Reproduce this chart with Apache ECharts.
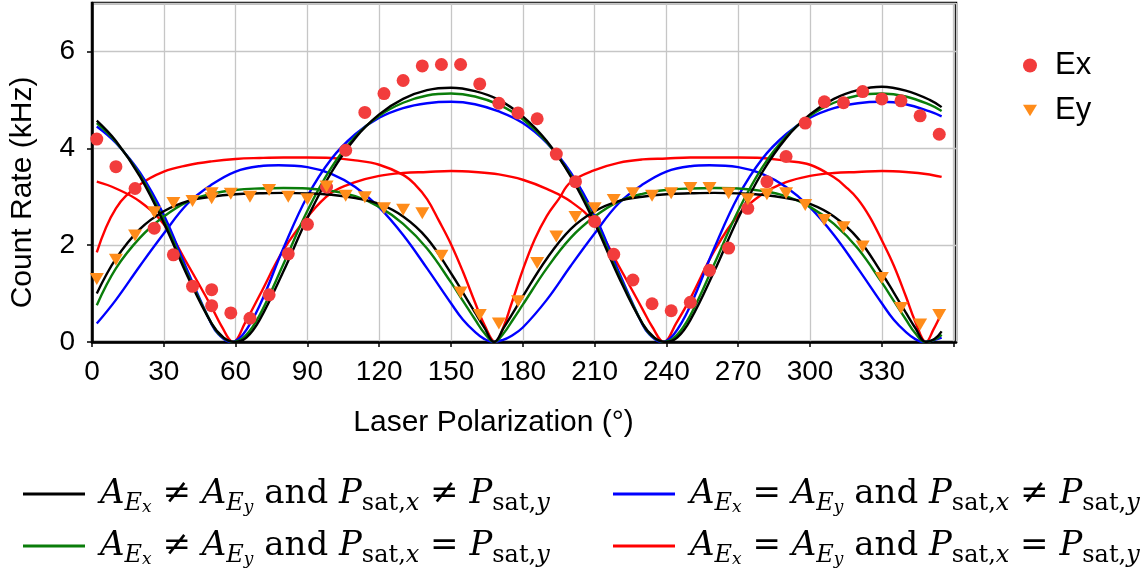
<!DOCTYPE html>
<html>
<head>
<meta charset="utf-8">
<script src="https://cdn.jsdelivr.net/npm/echarts@6/dist/echarts.min.js"></script>
<style>
html,body{margin:0;padding:0;background:#fff;}
#chart{width:1146px;height:573px;}
</style>
</head>
<body>
<div id="chart"></div>
<script>
// ---------- data ----------
const xTickLabels = [0, 30, 60, 90, 120, 150, 180, 210, 240, 270, 300, 330];
const yTickLabels = [0, 2, 4, 6];

// measured count rates (kHz) vs laser polarization (deg)
const exData = [[2,4.19],[10,3.62],[18,3.17],[26,2.35],[34,1.80],[42,1.15],[50,1.08],[50,0.75],[58,0.60],[66,0.49],[74,0.975],[82,1.82],[90,2.43],[98,3.20],[106,3.96],[114,4.74],[122,5.13],[130,5.40],[138,5.70],[146,5.73],[154,5.73],[162,5.33],[170,4.93],[178,4.73],[186,4.61],[194,3.88],[202,3.31],[210,2.49],[218,1.81],[226,1.28],[234,0.79],[242,0.645],[250,0.82],[258,1.48],[266,1.94],[274,2.76],[282,3.31],[290,3.83],[298,4.52],[306,4.96],[314,4.94],[322,5.17],[330,5.02],[338,4.98],[346,4.67],[354,4.29]];
const eyData = [[2,1.30],[10,1.70],[18,2.20],[26,2.68],[34,2.87],[42,2.91],[50,3.07],[50,2.97],[58,3.06],[66,3.00],[74,3.14],[82,3.00],[90,2.95],[98,3.21],[106,3.02],[114,2.99],[122,2.76],[130,2.73],[138,2.66],[146,1.78],[154,1.02],[162,0.56],[170,0.38],[178,0.84],[186,1.63],[194,2.18],[202,2.58],[210,2.76],[218,2.93],[226,3.07],[234,3.02],[242,3.07],[250,3.18],[258,3.18],[266,3.07],[274,2.95],[282,3.05],[290,3.07],[298,2.83],[306,2.52],[314,2.37],[322,1.97],[330,1.32],[338,0.70],[346,0.36],[354,0.56]];

// fitted curves
const blackEx = [[2,4.57],[10,4.15],[20,3.42],[30,2.46],[40,1.35],[50,0.38],[55,0.09],[59.5,0],[64.5,0.09],[70,0.45],[80,1.46],[90,2.56],[100,3.50],[110,4.21],[120,4.70],[130,5.02],[140,5.20],[150,5.25],[160,5.18],[170,5.00],[180,4.66],[190,4.15],[200,3.42],[210,2.46],[220,1.35],[230,0.38],[235,0.09],[239.5,0],[244.5,0.09],[250,0.45],[260,1.46],[270,2.56],[280,3.50],[290,4.21],[300,4.70],[310,5.02],[320,5.20],[330,5.27],[340,5.19],[350,5.00],[355,4.85]];
const blackEy = [[2,1.00],[10,1.72],[20,2.33],[30,2.70],[40,2.91],[50,3.00],[60,3.05],[70,3.07],[80,3.08],[90,3.07],[100,3.04],[110,2.97],[120,2.85],[130,2.59],[140,2.14],[150,1.42],[155,1.02],[160,0.61],[164,0.29],[168,0],[172,0.29],[176,0.61],[180,0.94],[190,1.72],[200,2.33],[210,2.70],[220,2.91],[230,3.00],[240,3.05],[250,3.07],[260,3.08],[270,3.07],[280,3.04],[290,2.97],[300,2.85],[310,2.59],[320,2.14],[330,1.42],[335,1.02],[340,0.61],[344,0.29],[348.5,0],[352,0.06],[355,0.22]];
const greenEx = [[2,4.52],[10,4.13],[20,3.45],[30,2.52],[40,1.39],[50,0.38],[54,0.12],[59,0],[64,0.12],[70,0.55],[80,1.61],[90,2.71],[100,3.60],[110,4.24],[120,4.67],[130,4.94],[140,5.09],[150,5.13],[160,5.07],[170,4.90],[180,4.60],[190,4.13],[200,3.45],[210,2.52],[220,1.39],[230,0.38],[234,0.12],[239,0],[244,0.12],[250,0.55],[260,1.61],[270,2.71],[280,3.60],[290,4.24],[300,4.67],[310,4.94],[320,5.09],[330,5.13],[340,5.07],[350,4.90],[355,4.77]];
const greenEy = [[2,0.76],[10,1.52],[20,2.15],[30,2.59],[40,2.90],[50,3.06],[60,3.14],[70,3.17],[80,3.18],[90,3.17],[100,3.12],[110,3.01],[120,2.79],[130,2.44],[140,1.93],[150,1.23],[155,0.85],[160,0.47],[164,0.18],[168,0],[172,0.18],[176,0.47],[180,0.77],[190,1.52],[200,2.15],[210,2.59],[220,2.90],[230,3.06],[240,3.14],[250,3.17],[260,3.18],[270,3.17],[280,3.12],[290,3.01],[300,2.79],[310,2.44],[320,1.93],[330,1.23],[335,0.85],[340,0.47],[344,0.18],[348,0],[352,0.05],[355,0.15]];
const blueEx = [[2,4.45],[10,4.11],[20,3.50],[30,2.62],[40,1.46],[50,0.36],[53,0.15],[58,0],[63,0.15],[70,0.75],[80,1.94],[90,3.01],[100,3.78],[110,4.29],[120,4.63],[130,4.83],[140,4.93],[150,4.96],[160,4.91],[170,4.76],[180,4.52],[190,4.11],[200,3.50],[210,2.62],[220,1.46],[230,0.36],[233,0.15],[238,0],[243,0.15],[250,0.75],[260,1.94],[270,3.01],[280,3.78],[290,4.29],[300,4.63],[310,4.83],[320,4.93],[330,4.96],[340,4.91],[350,4.76],[355,4.66]];
const blueEy = [[2,0.38],[10,0.87],[20,1.57],[30,2.24],[40,2.86],[50,3.25],[60,3.52],[70,3.63],[78,3.65],[90,3.61],[100,3.47],[110,3.20],[120,2.78],[130,2.21],[140,1.52],[150,0.80],[155,0.46],[160,0.21],[164,0.06],[167.5,0],[171.5,0.04],[175,0.12],[180,0.30],[190,0.87],[200,1.57],[210,2.24],[220,2.86],[230,3.25],[240,3.52],[250,3.63],[258,3.65],[270,3.61],[280,3.47],[290,3.20],[300,2.78],[310,2.21],[320,1.52],[330,0.80],[335,0.46],[340,0.21],[344,0.06],[347.5,0],[351,0.03],[355,0.09]];
const redEx = [[2,3.31],[10,3.17],[20,2.90],[30,2.43],[40,1.60],[50,0.72],[54,0.34],[59,0],[64,0.40],[70,0.96],[80,1.90],[90,2.58],[100,3.08],[110,3.30],[120,3.43],[130,3.49],[140,3.51],[150,3.53],[160,3.51],[170,3.46],[180,3.35],[190,3.16],[200,2.90],[210,2.45],[220,1.58],[230,0.68],[234,0.32],[239,0],[244,0.38],[250,0.90],[260,1.88],[270,2.62],[280,3.05],[290,3.30],[300,3.43],[310,3.49],[320,3.51],[330,3.53],[340,3.51],[350,3.46],[355,3.41]];
const redEy = [[2,1.85],[10,2.76],[20,3.25],[30,3.52],[40,3.65],[50,3.73],[60,3.78],[70,3.80],[80,3.81],[90,3.81],[100,3.80],[110,3.75],[120,3.66],[130,3.45],[135,3.25],[140,2.95],[145,2.50],[150,2.02],[155,1.45],[160,0.82],[164,0.35],[168.5,0],[172,0.32],[175,0.75],[180,1.49],[185,2.12],[190,2.60],[195,2.95],[200,3.30],[210,3.55],[220,3.70],[230,3.77],[240,3.79],[250,3.81],[260,3.81],[270,3.81],[280,3.80],[290,3.74],[300,3.66],[310,3.40],[315,3.20],[320,2.95],[325,2.58],[330,2.10],[335,1.58],[340,0.95],[344,0.42],[348.5,0],[351.5,0.25],[355,0.60]];

const modelNames = [
  'A_Ex ≠ A_Ey and P_sat,x ≠ P_sat,y',
  'A_Ex ≠ A_Ey and P_sat,x = P_sat,y',
  'A_Ex = A_Ey and P_sat,x ≠ P_sat,y',
  'A_Ex = A_Ey and P_sat,x = P_sat,y'
];
const modelColors = ['#000000', '#0a7d0a', '#0000ff', '#ff0000'];

// ---------- chart ----------
const sans = 'Liberation Sans, Arial, Helvetica, sans-serif';
const serif = 'DejaVu Serif, Liberation Serif, serif';
const triPath = 'path://M0,0L12,0L6,10Z';

function curve(name, color, data) {
  return {
    type: 'line', name: name, data: data, color: color,
    smooth: 0.4, symbol: 'none', showSymbol: false, silent: true,
    lineStyle: { color: color, width: 2.4 }, z: 2
  };
}

function mathLabel(name) {
  const ops = name.match(/[≠=]/g);
  return '{it|A}{s1|E}{s2|x}{op| ' + ops[0] + ' }{it|A}{s1|E}{s2|y}{rm| and }' +
         '{it|P}{s1r|sat,}{s1|x}{op| ' + ops[1] + ' }{it|P}{s1r|sat,}{s1|y}';
}
const rich = {
  it:  { fontFamily: serif, fontStyle: 'italic', fontSize: 34, lineHeight: 44, color: '#000' },
  rm:  { fontFamily: serif, fontSize: 34, lineHeight: 44, color: '#000' },
  op:  { fontFamily: serif, fontSize: 34, lineHeight: 44, color: '#000' },
  s1:  { fontFamily: serif, fontStyle: 'italic', fontSize: 24, lineHeight: 23, verticalAlign: 'bottom', color: '#000' },
  s1r: { fontFamily: serif, fontSize: 24, lineHeight: 23, verticalAlign: 'bottom', color: '#000' },
  s2:  { fontFamily: serif, fontStyle: 'italic', fontSize: 17, lineHeight: 12, verticalAlign: 'bottom', color: '#000' }
};

function modelLegend(left, names) {
  return {
    data: names, orient: 'vertical', left: left, top: 472, height: 100,
    icon: 'rect', itemWidth: 62, itemHeight: 3, itemGap: 13,
    selectedMode: false, formatter: mathLabel,
    textStyle: { rich: rich, padding: [0, 0, 0, 10] }
  };
}

const chart = echarts.init(document.getElementById('chart'), null, { renderer: 'canvas' });
chart.setOption({
  animation: false,
  backgroundColor: '#ffffff',
  grid: { left: 92, right: 190, top: 3, bottom: 231, show: true, borderColor: '#000', borderWidth: 2.5, backgroundColor: 'transparent' },
  xAxis: {
    type: 'value', min: 0, max: 361, interval: 30,
    name: 'Laser Polarization (°)', nameLocation: 'middle', nameGap: 66,
    nameTextStyle: { fontFamily: sans, fontSize: 30, color: '#000', padding: [0, 61, 0, 0] },
    axisLine: { show: true, lineStyle: { color: '#000', width: 2.5 } },
    axisTick: { show: true, length: 5, lineStyle: { color: '#000', width: 1.5 } },
    axisLabel: { fontFamily: sans, fontSize: 28, color: '#000', margin: 16, showMaxLabel: false,
      formatter: v => xTickLabels.indexOf(v) >= 0 ? String(v) : '' },
    splitLine: { show: true, lineStyle: { color: '#c6c6c6', width: 1.3 } }
  },
  yAxis: {
    type: 'value', min: 0, max: 7, interval: 2,
    name: 'Count Rate (kHz)', nameLocation: 'middle', nameGap: 54, nameRotate: 90,
    nameTextStyle: { fontFamily: sans, fontSize: 30, color: '#000', padding: [0, 40, 0, 0] },
    axisLine: { show: true, lineStyle: { color: '#000', width: 2.5 } },
    axisTick: { show: true, length: 5, lineStyle: { color: '#000', width: 1.5 } },
    axisLabel: { fontFamily: sans, fontSize: 28, color: '#000', margin: 17, showMaxLabel: false,
      formatter: v => yTickLabels.indexOf(v) >= 0 ? String(v) : '' },
    splitLine: { show: true, lineStyle: { color: '#c6c6c6', width: 1.3 } }
  },
  legend: [
    {
      data: [{ name: 'Ex', icon: 'circle' }, { name: 'Ey', icon: triPath }],
      orient: 'vertical', left: 1018, top: 45, itemWidth: 14, itemHeight: 14, itemGap: 14,
      selectedMode: false,
      textStyle: { fontFamily: sans, fontSize: 31, color: '#000', lineHeight: 31, padding: [0, 0, 0, 13] }
    },
    modelLegend(18, [modelNames[0], modelNames[1]]),
    modelLegend(608, [modelNames[2], modelNames[3]])
  ],
  series: [
    curve(modelNames[3], modelColors[3], redEx),
    curve(modelNames[3], modelColors[3], redEy),
    curve(modelNames[2], modelColors[2], blueEx),
    curve(modelNames[2], modelColors[2], blueEy),
    curve(modelNames[1], modelColors[1], greenEx),
    curve(modelNames[1], modelColors[1], greenEy),
    curve(modelNames[0], modelColors[0], blackEx),
    curve(modelNames[0], modelColors[0], blackEy),
    { type: 'scatter', name: 'Ex', data: exData, symbol: 'circle', symbolSize: 13,
      itemStyle: { color: '#f23c3c', opacity: 1 }, z: 4, silent: true },
    { type: 'scatter', name: 'Ey', data: eyData, symbol: triPath, symbolSize: [14, 12],
      itemStyle: { color: '#ff8c1a', opacity: 1 }, z: 5, silent: true }
  ]
});
</script>
</body>
</html>
